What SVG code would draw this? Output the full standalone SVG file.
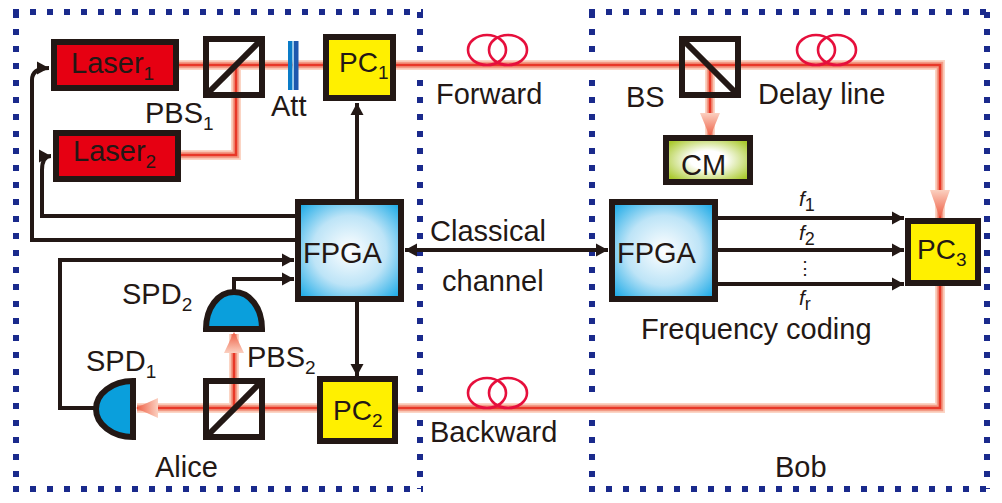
<svg xmlns="http://www.w3.org/2000/svg" width="1002" height="503" viewBox="0 0 1002 503">
<style>
text{font-family:"Liberation Sans",Arial,sans-serif;font-size:29px;fill:#231815}
.pc{font-size:28px}
.sub{font-size:19px}
.fi{font-style:italic;font-size:21px}
.s{font-size:18px;font-style:normal}
.dots{font-size:18px}
.box{stroke:#231815;stroke-width:6;fill:none}
.red{fill:#e60012}.yel{fill:#fff000}.fpga{fill:url(#fg)}.cm{fill:url(#cg)}
.dash{fill:none;stroke:#1a2a8c;stroke-width:6;stroke-dasharray:6 11}
.b1{fill:none;stroke:#fbd5c5;stroke-width:10}
.b2{fill:none;stroke:#f39a85;stroke-width:6.5}
.b3{fill:none;stroke:#e83828;stroke-width:2.6}
.w{fill:none;stroke:#231815;stroke-width:4}
.coil{fill:none;stroke:#e60f3c;stroke-width:2.6}
.spd{fill:#0a9fdc;stroke:#231815;stroke-width:6}
</style>
<defs>
<radialGradient id="fg" cx="50%" cy="50%" r="72%"><stop offset="0" stop-color="#fff"/><stop offset=".5" stop-color="#bde4f7"/><stop offset="1" stop-color="#00a0e4"/></radialGradient>
<radialGradient id="cg" cx="50%" cy="50%" r="60%"><stop offset=".35" stop-color="#fff"/><stop offset="1" stop-color="#a9c92c"/></radialGradient>
<linearGradient id="ad" x1="0" y1="0" x2="0" y2="1"><stop offset="0" stop-color="#fbd0c0"/><stop offset="1" stop-color="#ee5a40"/></linearGradient>
<linearGradient id="au" x1="0" y1="1" x2="0" y2="0"><stop offset="0" stop-color="#fbd0c0"/><stop offset="1" stop-color="#ee5a40"/></linearGradient>
<linearGradient id="al" x1="1" y1="0" x2="0" y2="0"><stop offset="0" stop-color="#fbd0c0"/><stop offset="1" stop-color="#ee5a40"/></linearGradient>
<marker id="ah" markerUnits="userSpaceOnUse" markerWidth="16" markerHeight="14" refX="12" refY="6.5" orient="auto-start-reverse" overflow="visible"><path d="M0 0L12 6.5L0 13Z" fill="#231815"/></marker>
<path id="beam" d="M179 65H323M396 65H940V218M181 155H236V65M940 286V408H398M317 408H137M234 408V334M710 65V135"/>
</defs>

<g id="boundaries">
<path class="dash" d="M13 12H423M16 12V489M13 489H423M420 12V489"/>
<path class="dash" d="M589 12H990M592 12V489M589 489H990M987 12V489"/>
</g>

<g id="connectors">
<use href="#beam" class="b1"/><use href="#beam" class="b2"/><use href="#beam" class="b3"/>
<path d="M700 113H720L710 137Z" fill="url(#ad)"/>
<path d="M930 190H950L940 218Z" fill="url(#ad)"/>
<path d="M224 353H244L234 332Z" fill="url(#au)"/>
<path d="M158 398V418L136 408Z" fill="url(#al)"/>
<path class="w" d="M296 240H32V80Q32 68 49 68" marker-end="url(#ah)"/>
<path class="w" d="M296 216H42V170Q42 156 51 156" marker-end="url(#ah)"/>
<path class="w" d="M95 408H60V260H294" marker-end="url(#ah)"/>
<path class="w" d="M234 290V279H294" marker-end="url(#ah)"/>
<path class="w" d="M357 199V103" marker-end="url(#ah)"/>
<path class="w" d="M357 302V376" marker-end="url(#ah)"/>
<path class="w" d="M405 250H608" marker-start="url(#ah)" marker-end="url(#ah)"/>
<path class="w" d="M718 218H904" marker-end="url(#ah)"/>
<path class="w" d="M718 250H904" marker-end="url(#ah)"/>
<path class="w" d="M718 284H904" marker-end="url(#ah)"/>
</g>

<g id="laser1"><rect class="box red" x="54" y="42" width="122" height="46"/><text x="71" y="73">Laser<tspan class="sub" dy="7">1</tspan></text></g>
<g id="laser2"><rect class="box red" x="56" y="133" width="122" height="46"/><text x="73" y="161">Laser<tspan class="sub" dy="7">2</tspan></text></g>
<g id="pbs1"><rect class="box" x="206" y="39" width="56" height="56"/><path class="box" d="M206 95L262 39"/><text x="145" y="123">PBS<tspan class="sub" dy="7">1</tspan></text></g>
<g id="att"><rect x="288" y="41" width="4.5" height="49" fill="#0a7cc8"/><rect x="292.5" y="41" width="1.5" height="49" fill="#9ccbea"/><rect x="294" y="41" width="4.5" height="49" fill="#1d58ae"/><text x="271" y="116">Att</text></g>
<g id="pc1"><rect class="box yel" x="326" y="37" width="67" height="61"/><text class="pc" x="339" y="72">PC<tspan class="sub" dy="7">1</tspan></text></g>
<g id="fiber-forward"><ellipse class="coil" cx="487" cy="50" rx="19" ry="15"/><ellipse class="coil" cx="508" cy="50" rx="19" ry="15"/><text x="436" y="104">Forward</text></g>
<g id="bs"><rect class="box" x="682" y="39" width="56" height="56"/><path class="box" d="M682 39L738 95"/><text x="626" y="107">BS</text></g>
<g id="fiber-delay"><ellipse class="coil" cx="816" cy="50" rx="19" ry="15"/><ellipse class="coil" cx="837" cy="50" rx="19" ry="15"/><text x="758" y="104">Delay line</text></g>
<g id="cm"><rect class="box cm" x="666" y="138" width="84" height="44"/><text x="681" y="175">CM</text></g>
<g id="fpga-alice"><rect class="box fpga" x="298" y="202" width="103" height="97"/><text x="303" y="263">FPGA</text></g>
<g id="fpga-bob"><rect class="box fpga" x="612" y="202" width="103" height="97"/><text x="617" y="263">FPGA</text></g>
<g id="pc3"><rect class="box yel" x="908" y="221" width="70" height="62"/><text class="pc" x="917" y="259">PC<tspan class="sub" dy="7">3</tspan></text></g>
<g id="classical"><text x="430" y="241">Classical</text><text x="442" y="291">channel</text></g>
<g id="freq">
<text class="fi" x="799" y="206">f<tspan class="s" dy="5">1</tspan></text>
<text class="fi" x="799" y="240">f<tspan class="s" dy="5">2</tspan></text>
<text class="dots" x="805" y="274" text-anchor="middle">⋮</text>
<text class="fi" x="799" y="305">f<tspan class="s" dy="5">r</tspan></text>
<text x="641" y="339">Frequency coding</text>
</g>
<g id="spd2"><path class="spd" d="M206 329C206 308 218 292 234 292C250 292 262 308 262 329Z"/><text x="122" y="304">SPD<tspan class="sub" dy="7">2</tspan></text></g>
<g id="pbs2"><rect class="box" x="206" y="381" width="56" height="56"/><path class="box" d="M206 437L262 381"/><text x="247" y="367">PBS<tspan class="sub" dy="7">2</tspan></text></g>
<g id="spd1"><path class="spd" d="M133 381C112 381 96 394 96 409C96 424 112 437 133 437Z"/><text x="86" y="371">SPD<tspan class="sub" dy="7">1</tspan></text></g>
<g id="pc2"><rect class="box yel" x="320" y="379" width="75" height="62"/><text class="pc" x="333" y="420">PC<tspan class="sub" dy="7">2</tspan></text></g>
<g id="fiber-backward"><ellipse class="coil" cx="487" cy="393" rx="19" ry="15"/><ellipse class="coil" cx="508" cy="393" rx="19" ry="15"/><text x="430" y="442">Backward</text></g>
<g id="labels"><text x="155" y="477">Alice</text><text x="775" y="477">Bob</text></g>
</svg>
